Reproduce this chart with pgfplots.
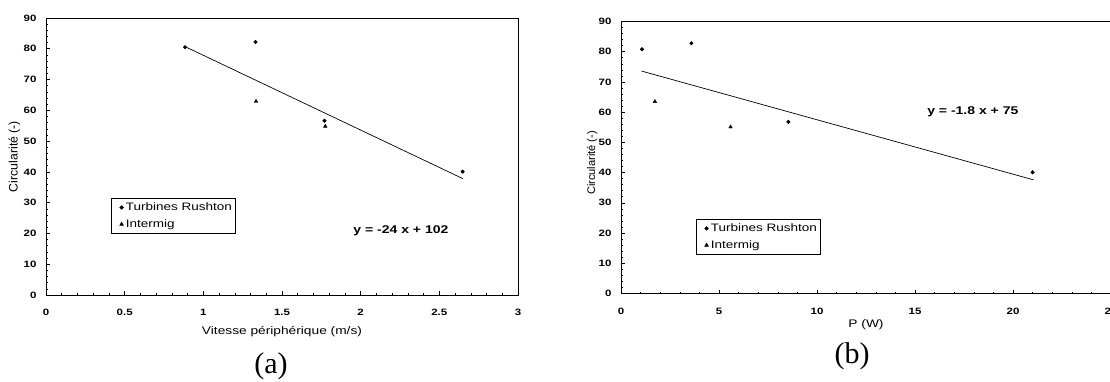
\documentclass[border=0pt]{standalone}
\usepackage{graphicx}
\usepackage{fontspec}
\setmainfont{Liberation Sans}
\newfontfamily\stretchsans[FakeStretch=1.25]{Liberation Sans}
\newfontfamily\stretchbold[FakeStretch=1.25]{Liberation Sans Bold}
\newfontfamily\plainsans{Liberation Sans}
\newfontfamily\serifa{Liberation Serif}
\newcommand\tickfont{\stretchbold\fontsize{9.2}{10}\selectfont}
\newcommand\lblfont{\stretchsans\fontsize{11}{13}\selectfont}
\newcommand\ylblfont{\plainsans\fontsize{11.5}{13}\selectfont}
\newcommand\legfont{\stretchsans\fontsize{10.8}{12}\selectfont}
\newcommand\eqfont{\stretchbold\fontsize{11.2}{13}\selectfont}
\usepackage{pgfplots}
\pgfplotsset{compat=1.18}

\pgfplotsset{
 mystyle/.style={
  scale only axis,
  clip=false,
  axis line style={line width=0.8pt},
  tick style={black, line width=0.6pt},
  tick align=inside,
  xtick pos=bottom, ytick pos=left,
  major tick length=4pt, minor tick length=2pt,
  ymin=0, ymax=90, ytick={0,10,20,30,40,50,60,70,80,90},
  minor x tick num=4, minor y tick num=4,
  /pgf/number format/assume math mode=true,
  xticklabel={\tickfont\pgfmathprintnumber[assume math mode=true]{\tick}},
  yticklabel={\tickfont\pgfmathprintnumber[assume math mode=true]{\tick}},
  xticklabel style={yshift=-11pt},
  yticklabel style={xshift=-6pt},
  legend cell align=left,
  legend image code/.code={\path (0pt,0pt) (11pt,0pt); \draw[##1] plot coordinates {(9pt,0pt)};},
  legend style={draw=black, line width=0.6pt, font=\legfont, inner xsep=1pt, inner ysep=2.5pt, row sep=3.5pt, anchor=north west},
 },
}

\begin{document}
\begin{tikzpicture}
\path[use as bounding box] (0pt,0pt) rectangle (1110pt,381pt);
\clip (0pt,0pt) rectangle (1110pt,381pt);

% Panel (a)
\begin{axis}[mystyle, at={(46pt,86pt)}, anchor=south west, width=472pt, height=277pt,
  xmin=0, xmax=3, xtick={0,0.5,1,1.5,2,2.5,3},
  legend style={at={(axis description cs:0.1377,0.350)}}]
 \addplot[only marks, mark=*, mark size=1.8pt, black] coordinates {(0.884,80.5) (1.332,82.2) (1.77,56.6) (2.648,40.1)};
 \addlegendentry{\legfont Turbines Rushton}
 \addplot[only marks, mark=triangle*, mark size=2.1pt, black] coordinates {(1.335,62.9) (1.775,54.8)};
 \addlegendentry{\legfont Intermig}
 \addplot[black, line width=0.7pt, forget plot] coordinates {(0.884,80.7) (2.65,37.8)};
 \node[anchor=center] at (axis description cs:0.752,0.232) {\eqfont y = -24 x + 102};
 \node[anchor=center, inner sep=0pt] at (axis description cs:0.5,-0.133) {\resizebox{160pt}{!}{\lblfont Vitesse périphérique (m/s)}};
 \node[anchor=center, rotate=90, inner sep=0pt] at (axis description cs:-0.067,0.5) {\resizebox{71pt}{!}{\ylblfont Circularité (-)}};
\end{axis}

% Panel (b)
\begin{axis}[mystyle, at={(621pt,87.5pt)}, anchor=south west, width=490pt, height=272pt,
  xmin=0, xmax=25, xtick={0,5,10,15,20,25},
  legend style={at={(axis description cs:0.153,0.274)}}]
 \addplot[only marks, mark=*, mark size=1.8pt, black] coordinates {(1.07,80.8) (3.59,82.8) (8.54,56.8) (21.0,40.1)};
 \addlegendentry{\legfont Turbines Rushton}
 \addplot[only marks, mark=triangle*, mark size=2.1pt, black] coordinates {(1.73,63.5) (5.59,55.1)};
 \addlegendentry{\legfont Intermig}
 \addplot[black, line width=0.7pt, forget plot] coordinates {(1.05,73.6) (21.05,37.6)};
 \node[anchor=center] at (axis description cs:0.718,0.668) {\eqfont y = -1.8 x + 75};
 \node[anchor=center] at (axis description cs:0.5,-0.115) {\lblfont P (W)};
 \node[anchor=center, rotate=90, inner sep=0pt] at (axis description cs:-0.059,0.48) {\resizebox{64pt}{!}{\ylblfont Circularité (-)}};
\end{axis}

\node[font=\serifa\fontsize{30}{32}\selectfont] at (271pt,15pt) {(a)};
\node[font=\serifa\fontsize{30}{32}\selectfont] at (852pt,25pt) {(b)};
\end{tikzpicture}
\end{document}
